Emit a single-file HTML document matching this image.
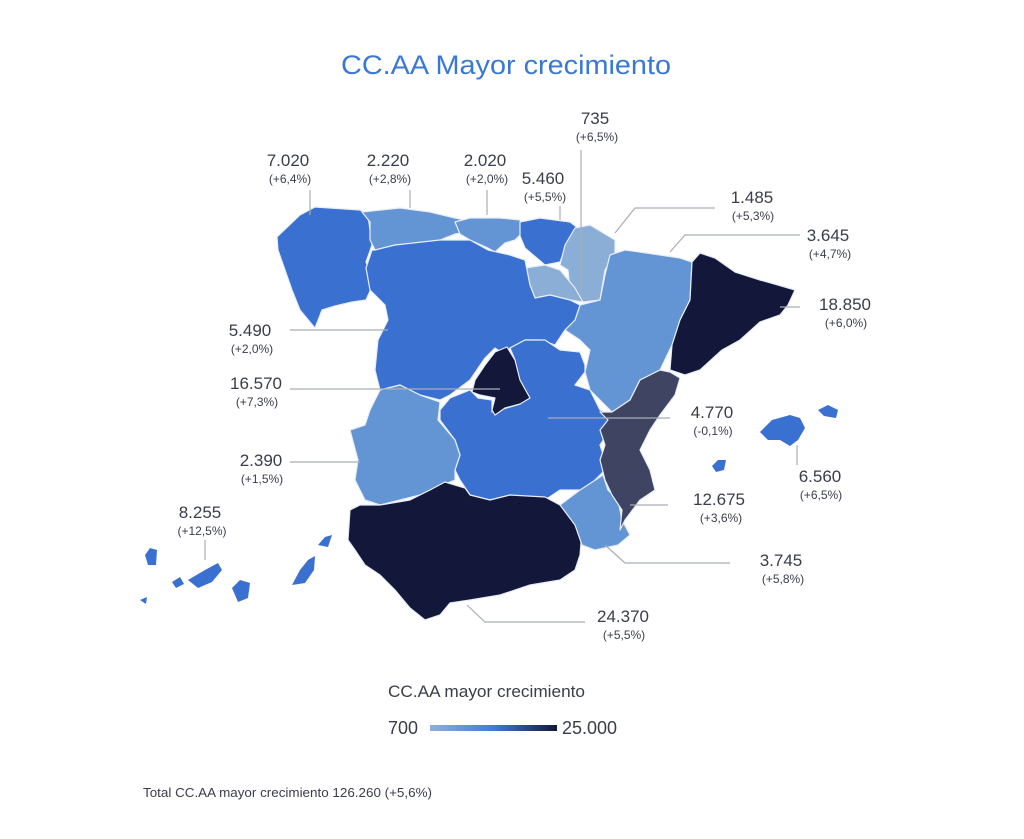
<!DOCTYPE html>
<html><head><meta charset="utf-8"><style>
body{margin:0;background:#fff;width:1024px;height:839px;overflow:hidden;font-family:"Liberation Sans",sans-serif}
svg{display:block}
.n{font-size:17px;fill:#3a3d4a}
.p{font-size:12px;fill:#3a3d4a}
.l{stroke:#a9adb6;stroke-width:1.2;fill:none}
.r{stroke:#e8eef8;stroke-width:1.2;stroke-linejoin:round}
</style></head><body>
<svg width="1024" height="839" viewBox="0 0 1024 839">
<defs><linearGradient id="g" x1="0" x2="1"><stop offset="0" stop-color="#8fb0db"/><stop offset="0.5" stop-color="#3f7bd6"/><stop offset="1" stop-color="#13183b"/></linearGradient></defs>
<text x="506" y="74" text-anchor="middle" font-size="27" fill="#3a78d6" textLength="330" lengthAdjust="spacingAndGlyphs">CC.AA Mayor crecimiento</text>
<polygon class="r" fill="#3a70cf" points="277,237 300,215 315,207 360,210 368,215 372,245 366,262 374,282 366,300 352,302 335,306 322,310 315,328 300,310 292,290 285,270 278,250"/>
<polygon class="r" fill="#6394d3" points="362,212 400,208 430,212 455,218 465,220 468,232 455,234 440,240 420,243 395,245 375,250 370,240 370,222"/>
<polygon class="r" fill="#6394d3" points="455,222 470,218 500,218 520,220 525,230 515,240 505,243 495,252 488,248 470,240 460,234"/>
<polygon class="r" fill="#3a70cf" points="520,222 540,218 570,222 578,228 568,242 560,262 545,265 525,248 520,236"/>
<polygon class="r" fill="#8aaed6" points="575,228 590,225 615,240 615,255 605,270 600,300 583,302 570,290 568,270 560,265 565,245"/>
<polygon class="r" fill="#8aaed6" points="525,268 545,265 560,270 575,288 583,302 570,300 550,295 535,298 530,285"/>
<polygon class="r" fill="#6394d3" points="610,255 625,250 660,255 680,258 692,262 690,300 680,320 672,345 660,370 640,380 630,400 612,412 605,405 590,390 585,372 590,350 580,340 565,330 575,320 580,305 600,300 605,275"/>
<polygon class="r" fill="#13183b" points="692,262 700,253 715,258 735,272 760,280 778,285 795,290 788,305 780,315 760,322 740,340 722,350 700,370 685,375 670,370 672,345 680,320 690,300"/>
<polygon class="r" fill="#3a70cf" points="375,250 395,245 440,240 470,240 488,250 510,255 525,260 530,285 535,298 550,295 570,300 580,305 575,320 565,330 555,345 540,340 525,340 510,348 505,355 495,348 485,358 470,380 450,395 440,400 420,395 400,385 380,390 375,370 378,340 388,320 385,305 370,290 366,268 372,250"/>
<polygon class="r" fill="#3a70cf" points="510,348 525,340 545,340 560,350 580,352 585,365 585,372 575,385 590,390 600,410 615,415 610,430 600,445 605,460 605,470 585,490 560,490 545,500 510,495 490,500 470,495 460,480 455,470 460,455 455,440 440,420 440,410 450,398 470,390 478,398 492,400 492,412 500,410 520,404 525,395 518,380 515,360"/>
<polygon class="r" fill="#13183b" points="507,347 515,360 520,380 530,398 520,404 505,408 495,415 492,410 495,398 480,395 472,392 475,380 485,365 495,352"/>
<polygon class="r" fill="#6394d3" points="380,390 400,385 420,395 440,402 438,420 455,440 460,455 455,470 455,480 430,490 420,495 400,500 380,505 365,500 355,480 358,460 350,430 365,425 370,410"/>
<polygon class="r" fill="#13183b" points="350,510 360,505 380,505 410,500 430,490 445,482 465,488 470,495 490,500 510,495 545,497 560,505 575,515 582,530 580,555 575,570 560,580 530,585 500,595 470,600 450,603 440,615 425,620 410,608 395,590 380,575 365,565 355,550 348,540"/>
<polygon class="r" fill="#6394d3" points="560,505 580,490 603,475 608,490 618,500 622,520 630,535 618,545 595,550 582,545 575,525"/>
<polygon class="r" fill="#3e4462" points="600,412 612,412 630,400 640,380 660,370 670,372 680,378 675,395 660,415 650,430 640,450 650,470 655,490 640,500 625,520 620,530 622,510 612,495 605,480 600,460 605,445 600,430 608,420"/>
<polygon fill="#3a70cf" points="760,432 772,420 790,415 800,418 805,428 798,440 790,446 780,440 768,440"/>
<polygon fill="#3a70cf" points="818,410 828,405 838,410 836,418 824,416"/>
<polygon fill="#3a70cf" points="712,466 718,460 726,460 724,470 716,472"/>
<polygon fill="#3a70cf" points="145,555 150,548 157,550 156,565 148,565"/>
<polygon fill="#3a70cf" points="172,582 180,577 184,584 176,588"/>
<polygon fill="#3a70cf" points="188,580 205,570 218,563 222,570 212,582 198,588"/>
<polygon fill="#3a70cf" points="232,588 240,580 250,583 248,598 238,602"/>
<polygon fill="#3a70cf" points="292,585 300,570 308,560 315,556 314,570 305,583"/>
<polygon fill="#3a70cf" points="318,545 325,537 332,535 328,547"/>
<polygon fill="#3a70cf" points="140,600 147,597 146,604"/>
<path class="l" d="M310,190V215M410,190V208M487,190V215M560,206V220M581,150V290M615,233L635,208H715M670,252L685,235H800M780,307H800M290,330H388M290,389H500M548,418H670M290,462H360M630,505H668M605,545L625,563H730M467,605L485,622H585M797,445V465M205,540V560"/>
<g text-anchor="middle">
<text class="n" x="288" y="166">7.020</text><text class="p" x="290" y="183">(+6,4%)</text>
<text class="n" x="388" y="166">2.220</text><text class="p" x="390" y="183">(+2,8%)</text>
<text class="n" x="485" y="166">2.020</text><text class="p" x="487" y="183">(+2,0%)</text>
<text class="n" x="543" y="184">5.460</text><text class="p" x="545" y="201">(+5,5%)</text>
<text class="n" x="595" y="124">735</text><text class="p" x="597" y="141">(+6,5%)</text>
<text class="n" x="752" y="203">1.485</text><text class="p" x="753" y="220">(+5,3%)</text>
<text class="n" x="828" y="241">3.645</text><text class="p" x="830" y="258">(+4,7%)</text>
<text class="n" x="845" y="310">18.850</text><text class="p" x="846" y="327">(+6,0%)</text>
<text class="n" x="250" y="336">5.490</text><text class="p" x="252" y="353">(+2,0%)</text>
<text class="n" x="256" y="389">16.570</text><text class="p" x="257" y="406">(+7,3%)</text>
<text class="n" x="712" y="418">4.770</text><text class="p" x="713" y="435">(-0,1%)</text>
<text class="n" x="261" y="466">2.390</text><text class="p" x="262" y="483">(+1,5%)</text>
<text class="n" x="820" y="482">6.560</text><text class="p" x="821" y="499">(+6,5%)</text>
<text class="n" x="719" y="505">12.675</text><text class="p" x="721" y="522">(+3,6%)</text>
<text class="n" x="200" y="518">8.255</text><text class="p" x="202" y="535">(+12,5%)</text>
<text class="n" x="781" y="566">3.745</text><text class="p" x="783" y="583">(+5,8%)</text>
<text class="n" x="623" y="622">24.370</text><text class="p" x="624" y="639">(+5,5%)</text>
</g>
<text x="388" y="697" font-size="16.5" fill="#3a3d4a" textLength="197" lengthAdjust="spacingAndGlyphs">CC.AA mayor crecimiento</text>
<text x="388" y="734" font-size="18" fill="#3a3d4a">700</text>
<rect x="430" y="725" width="127" height="6" fill="url(#g)"/>
<text x="562" y="734" font-size="18" fill="#3a3d4a">25.000</text>
<text x="143" y="797" font-size="13" fill="#3a3d4a" textLength="289" lengthAdjust="spacingAndGlyphs">Total CC.AA mayor crecimiento 126.260 (+5,6%)</text>
</svg>
</body></html>
